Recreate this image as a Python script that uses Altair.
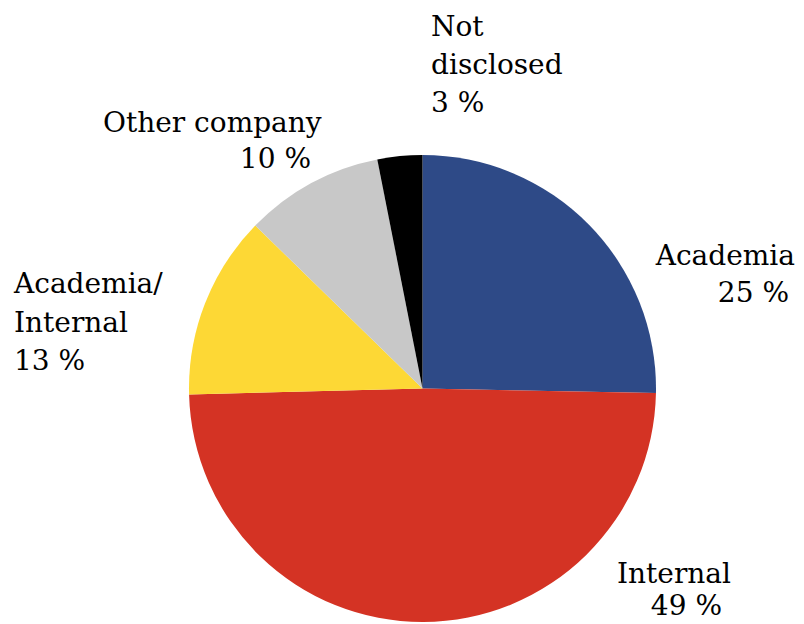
import altair as alt
import pandas as pd

# Data
categories = ["Academia", "Internal", "Academia/Internal", "Other company", "Not disclosed"]
shares = [25.3, 49.25, 12.7, 9.6, 3.1]
pct_labels = ["25 %", "49 %", "13 %", "10 %", "3 %"]
colors = ["#2E4A87", "#D43324", "#FDD835", "#C8C8C8", "#000000"]

df = pd.DataFrame({"category": categories, "share": shares, "order": list(range(len(categories)))})

FONT = "DejaVu Serif"
SIZE = 28
CX, CY, R = 414.5, 380.5, 233.5

pie = alt.Chart(df).mark_arc(outerRadius=R, strokeWidth=0).encode(
    theta=alt.Theta("share:Q", stack=True),
    color=alt.Color("category:N", scale=alt.Scale(domain=categories, range=colors), legend=None),
    order=alt.Order("order:Q"),
    x=alt.value(CX),
    y=alt.value(CY),
)

one = alt.Data(values=[{"k": 1}])


def label(text, x, y, align="left"):
    return alt.Chart(one).mark_text(
        text=text, align=align, baseline="alphabetic", font=FONT, fontSize=SIZE, color="#000000"
    ).encode(x=alt.value(x), y=alt.value(y))


layers = [
    pie,
    # Not disclosed
    label("Not", 423, 28),
    label("disclosed", 423, 66),
    label(pct_labels[4], 423, 104),
    # Other company
    label("Other company", 95, 124),
    label(pct_labels[3], 303, 160, "right"),
    # Academia
    label("Academia", 787, 257, "right"),
    label(pct_labels[0], 781, 294, "right"),
    # Academia/Internal
    label("Academia/", 6, 285),
    label("Internal", 6, 324),
    label(pct_labels[2], 6, 362),
    # Internal
    label("Internal", 609, 575),
    label(pct_labels[1], 714, 607, "right"),
]

chart = alt.layer(*layers).properties(
    width=788, height=640, autosize=alt.AutoSizeParams(type="none"), padding=0
).configure_view(stroke=None)

chart.save("out.html", embed_options={"renderer": "svg", "actions": False})
